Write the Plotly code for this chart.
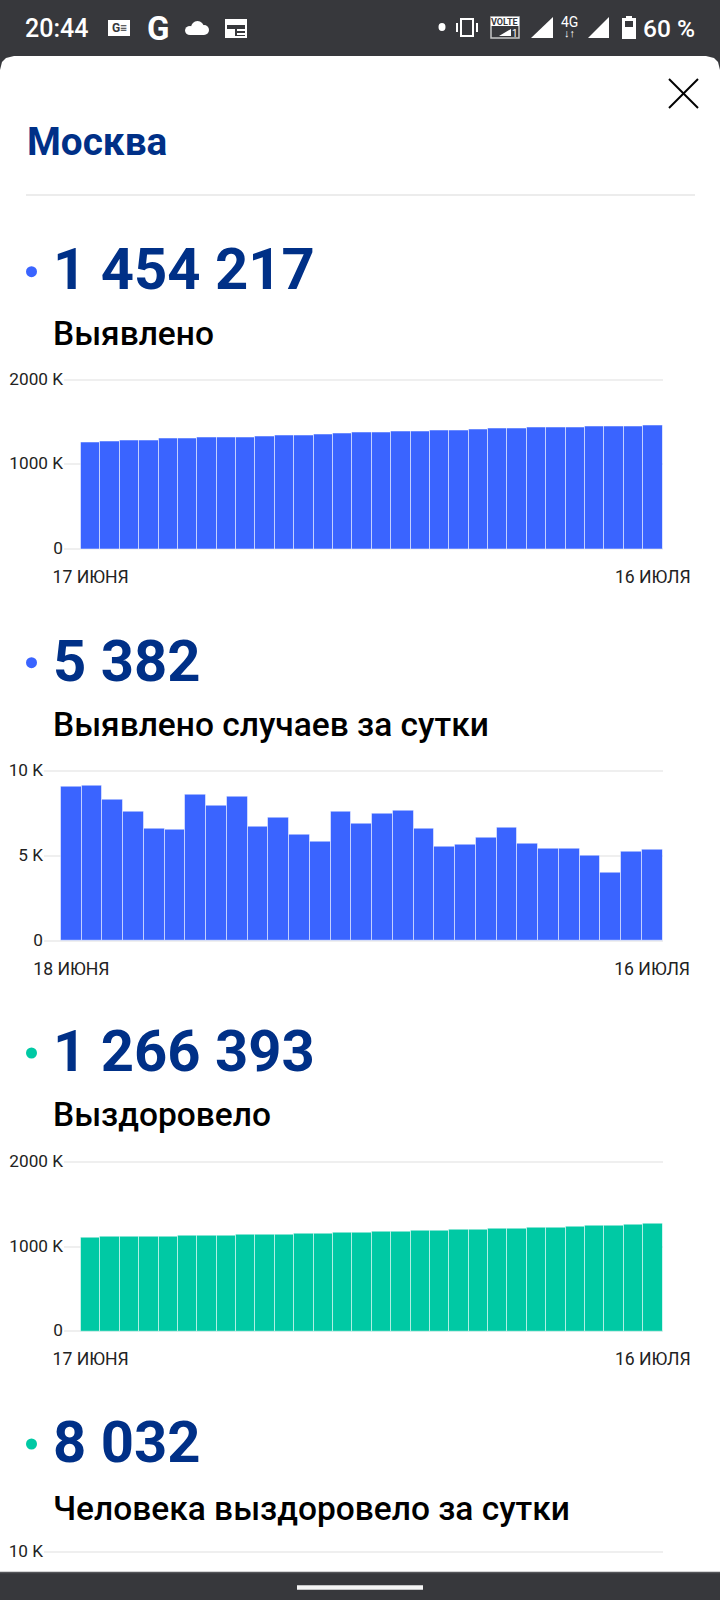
import plotly.graph_objects as go

# Values, thousands
confirmed_total = [1262, 1270, 1278, 1286, 1298, 1302, 1310, 1318, 1321, 1333, 1337, 1345, 1353, 1361, 1369,
                   1377, 1384, 1392, 1396, 1404, 1408, 1416, 1420, 1428, 1432, 1436, 1443, 1447, 1451, 1454.217]
confirmed_daily = [9.08, 9.14, 8.31, 7.59, 6.57, 6.55, 8.61, 7.92, 8.47, 6.73, 7.25, 6.22, 5.84, 7.61, 6.90,
                   7.45, 7.63, 6.57, 5.51, 5.63, 6.06, 6.67, 5.71, 5.43, 5.41, 5.02, 3.98, 5.25, 5.382]
recovered_total = [1108, 1112, 1112, 1116, 1120, 1124, 1128, 1132, 1135, 1139, 1143, 1147, 1151, 1159, 1163,
                   1171, 1175, 1183, 1190, 1194, 1202, 1206, 1214, 1222, 1226, 1234, 1241, 1249, 1258, 1266.393]
recovered_daily = []  # cut off by the bottom of the screen

big_numbers = ["1 454 217", "5 382", "1 266 393", "8 032"]
captions = ["Выявлено", "Выявлено случаев за сутки", "Выздоровело", "Человека выздоровело за сутки"]
first_dates = ["17 ИЮНЯ", "18 ИЮНЯ", "17 ИЮНЯ"]
last_date = "16 ИЮЛЯ"
city = "Москва"
clock = "20:44"
battery_text = "60 %"

W, H = 720, 1600
BLUE, GREEN = "#3a64ff", "#00c9a4"
NAVY = "#003087"
DARK = "#37383c"
GRID = "#efefef"
TICK = "#222222"
PAD = 3  # plotly drops gridlines sitting on the axis ends, so keep the range a bit wider


def px(x):
    return x / W


def py(y):
    return 1 - y / H


fig = go.Figure()


def add_shape(kind, x0, y0, x1, y1, fill, line=None, width=0):
    fig.add_shape(type=kind, xref="paper", yref="paper", x0=px(x0), x1=px(x1), y0=py(y0), y1=py(y1),
                  fillcolor=fill, line=dict(color=line or fill, width=width), layer="above")


def add_path(points, fill):
    d = "M " + " L ".join(f"{px(x):.5f},{py(y):.5f}" for x, y in points) + " Z"
    fig.add_shape(type="path", xref="paper", yref="paper", path=d, fillcolor=fill, line=dict(width=0), layer="above")


def add_line(x0, y0, x1, y1, color, width):
    fig.add_shape(type="line", xref="paper", yref="paper", x0=px(x0), x1=px(x1), y0=py(y0), y1=py(y1),
                  line=dict(color=color, width=width), layer="above")


def add_text(text, x, y, size, color, weight=400, anchor="left"):
    fig.add_annotation(text=text, xref="paper", yref="paper", x=px(x), y=py(y), xanchor=anchor, yanchor="middle",
                       showarrow=False, borderpad=0, borderwidth=0,
                       font=dict(family="Roboto", size=size, color=color, weight=weight))


# Charts: (values, colour, gridline top, zero line, grid left, top tick, tick values, tick labels)
charts = [
    (confirmed_total, BLUE, 379.5, 549, 64, 2000, [0, 1000, 2000], ["0", "1000 K", "2000 K"], first_dates[0]),
    (confirmed_daily, BLUE, 770.7, 940.7, 44, 10, [0, 5, 10], ["0", "5 K", "10 K"], first_dates[1]),
    (recovered_total, GREEN, 1161.7, 1331.3, 64, 2000, [0, 1000, 2000], ["0", "1000 K", "2000 K"], first_dates[2]),
]
layout_axes = {}
for i, (vals, color, top, zero, left, ymax, tvals, ttext, first) in enumerate(charts, start=1):
    n = len(vals)
    bar_left = 81 if n == 30 else 61
    unit = (662.5 - bar_left) / n
    per_px = ymax / (zero - top)
    fig.add_trace(go.Bar(x=list(range(n)), y=vals, xaxis=f"x{i}", yaxis=f"y{i}", width=1,
                         marker=dict(color=color, line=dict(color="rgba(255,255,255,0.5)", width=1))))
    layout_axes[f"xaxis{i}"] = dict(domain=[px(left), px(662.5)], anchor=f"y{i}",
                                    range=[-0.5 - (bar_left - left) / unit, n - 0.5],
                                    showgrid=False, zeroline=False, showline=False,
                                    tickmode="array", tickvals=[0, n - 1], ticktext=[first, last_date],
                                    ticks="outside", ticklen=9, tickcolor="rgba(0,0,0,0)", tickangle=0,
                                    tickfont=dict(family="Roboto", size=17.6, color=TICK))
    layout_axes[f"yaxis{i}"] = dict(domain=[py(zero + PAD), py(top - PAD)], anchor=f"x{i}",
                                    range=[-PAD * per_px, ymax + PAD * per_px],
                                    showgrid=True, gridcolor=GRID, gridwidth=1.5, zeroline=False, showline=False,
                                    tickmode="array", tickvals=tvals, ticktext=ttext, ticklabelshift=-1,
                                    tickfont=dict(family="Roboto", size=17.2, color=TICK))

# Fourth chart only shows its top gridline before the nav bar hides the rest
fig.add_trace(go.Bar(x=list(range(len(recovered_daily))), y=recovered_daily, xaxis="x4", yaxis="y4"))
layout_axes["xaxis4"] = dict(domain=[px(44), px(662.5)], anchor="y4", range=[-1.3, 28.5], visible=False)
layout_axes["yaxis4"] = dict(domain=[0, py(1552 - PAD)], anchor="x4", range=[10 - 48 / 17, 10 + PAD / 17],
                             showgrid=True, gridcolor=GRID, gridwidth=1.5, zeroline=False, showline=False,
                             tickmode="array", tickvals=[10], ticktext=["10 K"], ticklabelshift=-1,
                             tickfont=dict(family="Roboto", size=17.2, color=TICK))

# Headline rows
number_y = [269, 660.6, 1051, 1441.7]
caption_y = [333.4, 724, 1114, 1508]
dot_y = [271.7, 662.7, 1053, 1444]
dot_colors = [BLUE, BLUE, GREEN, GREEN]
for num, cap, ny, cy, dy, dc in zip(big_numbers, captions, number_y, caption_y, dot_y, dot_colors):
    add_text(num, 52.5, ny, 58, NAVY, 700)
    add_text(cap, 53, cy, 33.5, "#000000", 500)
    add_shape("circle", 26, dy - 5.5, 37, dy + 5.5, dc)

# Sheet header
add_text(city, 27, 141, 38.7, NAVY, 700)
add_line(26, 195, 695, 195, "#e6e6e6", 1.5)
add_line(669, 79, 698, 108, "#000000", 2)
add_line(698, 79, 669, 108, "#000000", 2)

# Status bar with rounded top of the sheet
add_shape("rect", 0, 0, 720, 70, DARK)
r = 14
corners = [(0, 70), (0, 56 + r), (2, 56 + 6), (6, 56 + 2), (r, 56), (720 - r, 56), (714, 58), (718, 62), (720, 56 + r), (720, 70)]
add_path(corners, "#ffffff")
add_text(clock, 25, 29, 25, "#ffffff", 500)
add_text(battery_text, 643, 29, 24.5, "#ffffff", 500)
# news icon
add_shape("rect", 108, 20, 130, 36, "#ffffff")
add_text("G≡", 119, 28, 12, DARK, 700, "center")
add_text("G", 158, 29, 33, "#ffffff", 700, "center")
# cloud
add_shape("circle", 191, 21, 204, 34, "#ffffff")
add_shape("circle", 185, 26, 195, 35, "#ffffff")
add_shape("circle", 199, 25, 209, 35, "#ffffff")
add_shape("rect", 190, 30, 204, 35, "#ffffff")
# calendar
add_shape("rect", 225, 19, 247, 38, "#ffffff")
add_shape("rect", 227, 25, 245, 36, DARK)
add_shape("rect", 227, 29, 235, 36, "#ffffff")
add_shape("rect", 237, 29, 245, 31, "#ffffff")
add_shape("rect", 237, 33, 245, 35, "#ffffff")
# right-hand icons
add_shape("circle", 438.5, 23, 445.5, 31, "#ffffff")
add_shape("rect", 461, 19, 473, 36, DARK, "#ffffff", 2)
add_line(457, 23, 457, 32, "#ffffff", 2)
add_line(477, 23, 477, 32, "#ffffff", 2)
add_shape("rect", 491, 17, 519, 38, DARK, "#c8c8c8", 1.5)
add_shape("rect", 491, 17, 519, 26, "#ffffff")
add_text("VOLTE", 505, 22, 9, DARK, 700, "center")
add_path([(511, 29), (511, 36), (499, 36)], "#ffffff")
add_text("1", 515, 33, 10, "#ffffff", 400, "center")
add_path([(553, 17), (553, 38), (531, 38)], "#ffffff")
add_text("4G", 569, 22, 14, "#ffffff", 400, "center")
add_text("↓↑", 569, 33, 11, "#ffffff", 700, "center")
add_path([(609, 17), (609, 38), (588, 38)], "#ffffff")
add_shape("rect", 626, 16, 632, 20, "#ffffff")
add_shape("rect", 622, 18, 636, 39, "#ffffff")
add_shape("rect", 625, 21, 633, 27, DARK)

# Nav bar
add_shape("rect", 0, 1572, 720, 1600, DARK)
add_line(0, 1572.5, 720, 1572.5, "#55565a", 1.5)
add_line(297, 1587.5, 423, 1587.5, "#f5f5f5", 4.5)

fig.update_layout(width=W, height=H, margin=dict(l=0, r=0, t=0, b=0, autoexpand=False), paper_bgcolor="#ffffff",
                  plot_bgcolor="#ffffff", showlegend=False, barmode="overlay", bargap=0, hovermode=False,
                  **layout_axes)

# the page's default body margin would shift everything by 8px
fig.write_html("out.html", config={"displayModeBar": False}, post_script="document.body.style.margin='0';")
